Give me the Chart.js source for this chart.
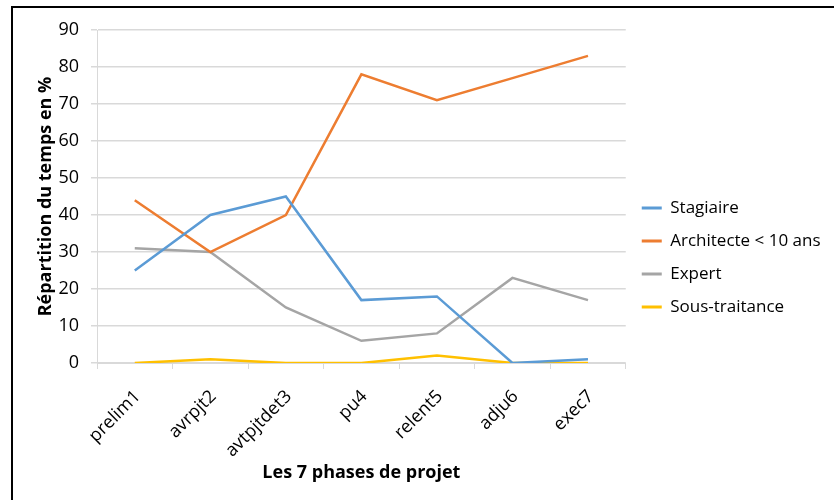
<!DOCTYPE html>
<html>
<head>
<meta charset="utf-8">
<script src="https://cdn.jsdelivr.net/npm/chart.js@4"></script>
<style>
  body { margin: 0; background: #fff; }
  #wrap { position: relative; width: 834px; height: 500px; overflow: hidden; }
  #frame { position: absolute; left: 11px; top: 6px; width: 900px; height: 600px;
           border: 2px solid #000; pointer-events: none; }
  canvas { position: absolute; left: 0; top: 0; }
</style>
</head>
<body>
<div id="wrap">
  <canvas id="chart" width="834" height="500"></canvas>
  <div id="frame"></div>
</div>
<script>
const phases = ['prelim1', 'avrpjt2', 'avtpjtdet3', 'pu4', 'relent5', 'adju6', 'exec7'];
const stagiaire = [25, 40, 45, 17, 18, 0, 1];
const architecte = [44, 30, 40, 78, 71, 77, 83];
const expert = [31, 30, 15, 6, 8, 23, 17];
const sousTraitance = [0, 1, 0, 0, 2, 0, 0];

const font = '"Open Sans", Lato, sans-serif';
const gridColor = '#d9d9d9';

function line(label, data, color) {
    return {
        label: label,
        data: data,
        borderColor: color,
        backgroundColor: color,
        borderWidth: 2.5,
        pointRadius: 0,
        tension: 0
    };
}

new Chart(document.getElementById('chart'), {
    type: 'line',
    data: {
        labels: phases,
        datasets: [
            line('Stagiaire', stagiaire, '#5b9bd5'),
            line('Architecte < 10 ans', architecte, '#ed7d31'),
            line('Expert', expert, '#a5a5a5'),
            line('Sous-traitance', sousTraitance, '#ffc000')
        ]
    },
    options: {
        responsive: false,
        animation: false,
        layout: {
            padding: { left: 31, top: 30, right: 10, bottom: 15 }
        },
        plugins: {
            tooltip: { enabled: false },
            legend: {
                position: 'right',
                labels: {
                    color: '#000',
                    font: { family: font, size: 17 },
                    boxWidth: 20,
                    boxHeight: 3,
                    padding: 16,
                    generateLabels(chart) {
                        return chart.data.datasets.map((ds, i) => ({
                            text: ds.label,
                            fillStyle: ds.borderColor,
                            strokeStyle: ds.borderColor,
                            lineWidth: 0,
                            fontColor: '#000',
                            datasetIndex: i
                        }));
                    }
                }
            }
        },
        scales: {
            x: {
                offset: true,
                afterFit(scale) { scale.height = 122; },
                grid: {
                    offset: true,
                    drawOnChartArea: false,
                    color: gridColor,
                    tickLength: 6
                },
                border: { color: gridColor },
                ticks: {
                    color: '#000',
                    font: { family: font, size: 18 },
                    minRotation: 45,
                    maxRotation: 45,
                    padding: 17,
                    labelOffset: 3
                },
                title: {
                    display: true,
                    text: 'Les 7 phases de projet',
                    color: '#000',
                    font: { family: font, size: 18, weight: 'bold' },
                    padding: { top: 4, bottom: 1 }
                }
            },
            y: {
                min: 0,
                max: 90,
                afterFit(scale) { scale.width = 66; },
                grid: { color: gridColor, tickLength: 6, lineWidth: 1.5 },
                border: { color: gridColor },
                ticks: {
                    stepSize: 10,
                    color: '#000',
                    font: { family: font, size: 18 },
                    padding: 12
                },
                title: {
                    display: true,
                    text: 'Répartition du temps en %',
                    color: '#000',
                    font: { family: font, size: 18, weight: 'bold' },
                    padding: 4
                }
            }
        }
    }
});
</script>
</body>
</html>
